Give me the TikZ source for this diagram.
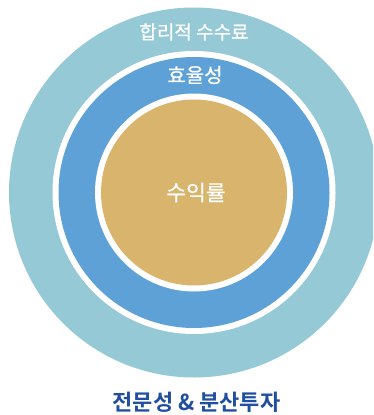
\documentclass[tikz,border=0pt]{standalone}
\usepackage{fontspec}
\newfontfamily\kr{Noto Sans CJK KR}[FakeBold=0.6]
\newfontfamily\krb{Noto Sans CJK KR}[BoldFont={* Bold}]
\definecolor{teal}{HTML}{96C9D6}
\definecolor{ringblue}{HTML}{5EA1D7}
\definecolor{gold}{HTML}{D8B46C}
\definecolor{navy}{HTML}{1F4F9E}
\begin{document}
\begin{tikzpicture}[x=1pt,y=-1pt,
  lbl/.style={text=white,inner sep=0pt,font=\kr\fontsize{#1}{#1}\selectfont},
  lbl/.default=19]
\useasboundingbox (0,0) rectangle (373,415);
\begin{scope}
\clip (0,0) rectangle (373,415);
\fill[teal] (194,192.5) circle[radius=185];
\fill[white] (194,192.5) circle[radius=141.5];
\fill[ringblue] (194,192.5) circle[radius=135.5];
\fill[white] (194,192.5) circle[radius=99];
\fill[gold] (194,192.5) circle[radius=93];
\end{scope}
\node[lbl=19] (fee) at (194,32) {합리적 수수료};
\node[lbl=20] (eff) at (195,75) {효율성};
\node[lbl=21.5] (ret) at (196,192.5) {수익률};
\node[inner sep=0pt,text=navy,font=\krb\bfseries\fontsize{22}{22}\selectfont] (exp) at (196.5,402) {전문성 \& 분산투자};
\end{tikzpicture}
\end{document}
